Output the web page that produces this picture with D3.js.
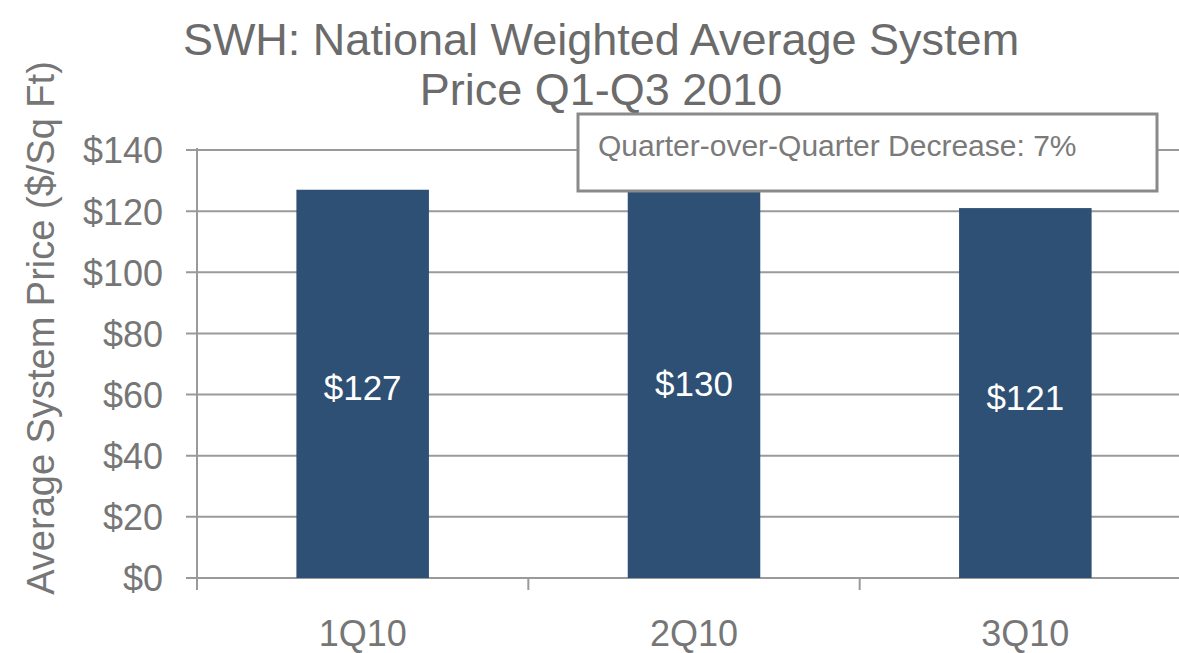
<!DOCTYPE html>
<html>
<head>
<meta charset="utf-8">
<script src="https://cdn.jsdelivr.net/npm/d3@7"></script>
<style>
  body { margin: 0; background: #fff; }
  text { font-family: "Liberation Sans", Arial, sans-serif; }
</style>
</head>
<body>
<div id="chart"></div>
<script>
//chart data
const quarters = ['1Q10', '2Q10', '3Q10'];
const prices = [127, 130, 121];
const yTicks = [0, 20, 40, 60, 80, 100, 120, 140];
const titleLines = ['SWH: National Weighted Average System', 'Price Q1-Q3 2010'];
const note = 'Quarter-over-Quarter Decrease: 7%';

const width = 1179, height = 653;
const margin = {left: 197, top: 150, bottom: 75};
const plotRight = 1191;   // last band runs off the right edge
const plotBottom = height - margin.bottom;

const textGray = '#767676';
const gridGray = '#9a9a9a';
const barBlue = '#2e5074';

let svg = d3.select('#chart')
    .append('svg')
    .attr('width', width)
    .attr('height', height);

//scales
let y = d3.scaleLinear().domain([0, 140]).range([plotBottom, margin.top]);

let xBand = d3.scaleBand().domain(quarters).range([margin.left, plotRight]);
let xBar = d3.scaleBand().domain(quarters).range([margin.left, plotRight])
    .paddingInner(0.6).paddingOuter(0.3);

//gridlines
svg.append('g')
    .selectAll('line')
    .data(yTicks)
    .enter().append('line')
    .attr('x1', margin.left - 11)
    .attr('x2', width)
    .attr('y1', d => y(d))
    .attr('y2', d => y(d))
    .attr('stroke', gridGray)
    .attr('stroke-width', 2);

//y axis
let yAxis = svg.append('g')
    .attr('transform', `translate(${margin.left},0)`)
    .call(d3.axisLeft(y).tickValues(yTicks).tickSize(11).tickPadding(23)
        .tickFormat(d => '$' + d));
yAxis.select('.domain').remove();
yAxis.selectAll('line').remove();
yAxis.selectAll('text')
    .attr('fill', textGray)
    .style('font-size', '36px')
    .attr('dy', '0.36em');

svg.append('line')
    .attr('x1', margin.left).attr('x2', margin.left)
    .attr('y1', margin.top - 2).attr('y2', plotBottom + 12)
    .attr('stroke', gridGray).attr('stroke-width', 2);

//x axis ticks between categories
let boundaries = quarters.map(q => xBand(q));
svg.append('g')
    .selectAll('line')
    .data(boundaries)
    .enter().append('line')
    .attr('x1', d => d).attr('x2', d => d)
    .attr('y1', plotBottom).attr('y2', plotBottom + 12)
    .attr('stroke', gridGray).attr('stroke-width', 2);

//bars
svg.append('g')
    .selectAll('rect')
    .data(prices)
    .enter().append('rect')
    .attr('x', (d, i) => xBar(quarters[i]))
    .attr('width', xBar.bandwidth())
    .attr('y', d => y(d))
    .attr('height', d => y(0) - y(d))
    .attr('fill', barBlue);

//bar value labels
svg.append('g')
    .selectAll('text')
    .data(prices)
    .enter().append('text')
    .attr('x', (d, i) => xBar(quarters[i]) + xBar.bandwidth() / 2)
    .attr('y', d => (y(d) + y(0)) / 2 + 4)
    .attr('dy', '0.36em')
    .attr('text-anchor', 'middle')
    .attr('fill', '#fff')
    .style('font-size', '35px')
    .text(d => '$' + d);

//category labels
svg.append('g')
    .selectAll('text')
    .data(quarters)
    .enter().append('text')
    .attr('x', d => xBand(d) + xBand.bandwidth() / 2)
    .attr('y', 646)
    .attr('text-anchor', 'middle')
    .attr('fill', textGray)
    .style('font-size', '36px')
    .text(d => d);

//y axis title
svg.append('text')
    .attr('transform', `translate(54, 328) rotate(-90)`)
    .attr('text-anchor', 'middle')
    .attr('fill', textGray)
    .style('font-size', '38px')
    .text('Average System Price ($/Sq Ft)');

//chart title
svg.append('g')
    .selectAll('text')
    .data(titleLines)
    .enter().append('text')
    .attr('x', 601)
    .attr('y', (d, i) => 55 + i * 50)
    .attr('text-anchor', 'middle')
    .attr('fill', '#6b6b6b')
    .style('font-size', '45px')
    .text(d => d);

//annotation box
svg.append('rect')
    .attr('x', 578).attr('y', 114)
    .attr('width', 579).attr('height', 77)
    .attr('fill', '#fff')
    .attr('stroke', '#8a8a8a')
    .attr('stroke-width', 3);

svg.append('text')
    .attr('x', 598).attr('y', 156)
    .attr('fill', '#7a7a7a')
    .style('font-size', '30px')
    .text(note);
</script>
</body>
</html>
